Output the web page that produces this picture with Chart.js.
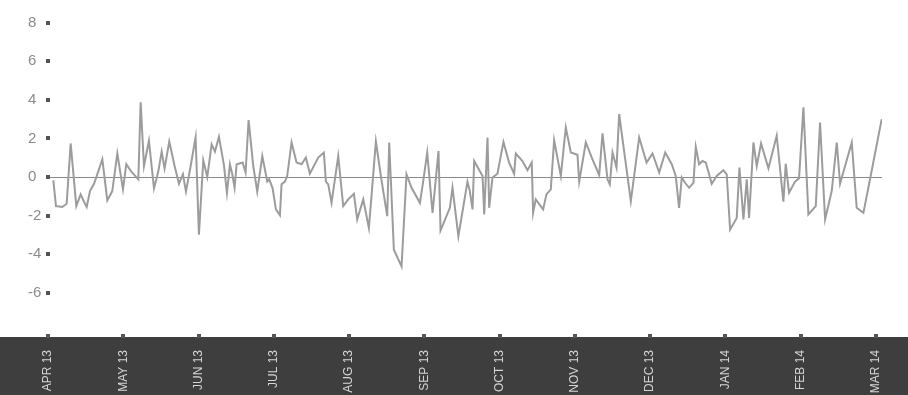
<!DOCTYPE html>
<html>
<head>
<meta charset="utf-8">
<script src="https://cdn.jsdelivr.net/npm/chart.js@4.4.1/dist/chart.umd.min.js"></script>
<style>
  html, body { margin: 0; padding: 0; background: #fff; }
  #wrap { width: 908px; height: 395px; }
</style>
</head>
<body>
<div id="wrap"><canvas id="chart"></canvas></div>
<script>
// month labels, one per tick (tick value = months since Apr 2013)
const monthLabels = ['APR 13', 'MAY 13', 'JUN 13', 'JUL 13', 'AUG 13', 'SEP 13',
                     'OCT 13', 'NOV 13', 'DEC 13', 'JAN 14', 'FEB 14', 'MAR 14'];
const monthTicks = [0, 1, 2, 3, 4, 5, 6, 7, 8, 9, 10, 11];
const yTicks = [-6, -4, -2, 0, 2, 4, 6, 8];

// position of each point in months since the start of Apr 2013
const pointMonths = [
    0.071, 0.106, 0.190, 0.248, 0.301, 0.376, 0.434, 0.478, 0.514, 0.558,
    0.611, 0.655, 0.722, 0.788, 0.854, 0.921, 0.996, 1.040, 1.107, 1.200,
    1.231, 1.275, 1.341, 1.408, 1.465, 1.510, 1.549, 1.611, 1.682, 1.740,
    1.793, 1.833, 1.895, 1.961, 2.005, 2.063, 2.116, 2.174, 2.218, 2.271,
    2.337, 2.377, 2.417, 2.448, 2.479, 2.506, 2.585, 2.625, 2.665, 2.727,
    2.780, 2.847, 2.913, 2.939, 2.984, 3.028, 3.081, 3.103, 3.147, 3.178,
    3.236, 3.302, 3.369, 3.426, 3.479, 3.590, 3.665, 3.692, 3.723, 3.767,
    3.856, 3.922, 3.988, 4.064, 4.108, 4.188, 4.263, 4.312, 4.356, 4.431,
    4.507, 4.533, 4.595, 4.697, 4.763, 4.830, 4.941, 4.985, 5.038, 5.109,
    5.188, 5.215, 5.339, 5.374, 5.452, 5.573, 5.604, 5.640, 5.662, 5.773,
    5.795, 5.839, 5.861, 5.905, 5.971, 6.051, 6.126, 6.193, 6.215, 6.303,
    6.370, 6.427, 6.445, 6.480, 6.578, 6.622, 6.680, 6.724, 6.813, 6.879,
    6.946, 7.034, 7.057, 7.145, 7.234, 7.323, 7.367, 7.433, 7.464, 7.500,
    7.553, 7.588, 7.743, 7.854, 7.952, 8.031, 8.120, 8.200, 8.287, 8.340,
    8.384, 8.420, 8.464, 8.517, 8.575, 8.606, 8.650, 8.694, 8.739, 8.818,
    8.884, 8.973, 9.017, 9.062, 9.150, 9.186, 9.239, 9.283, 9.314, 9.372,
    9.416, 9.473, 9.571, 9.681, 9.770, 9.801, 9.845, 9.925, 9.978, 10.036,
    10.102, 10.200, 10.257, 10.324, 10.412, 10.479, 10.523, 10.678, 10.744, 10.833,
    10.921, 11.076
];
const spreadValues = [
    -0.17, -1.51, -1.56, -1.39, 1.74, -1.51, -0.90, -1.28, -1.56, -0.73,
    -0.35, 0.14, 0.92, -1.22, -0.73, 1.22, -0.64, 0.66, 0.28, -0.12,
    3.87, 0.57, 1.88, -0.59, 0.28, 1.32, 0.45, 1.84, 0.57, -0.35,
    0.14, -0.76, 0.57, 2.05, -2.99, 0.87, 0.00, 1.70, 1.32, 2.08,
    0.63, -0.83, 0.66, 0.14, -0.56, 0.66, 0.75, 0.23, 2.95, 0.57,
    -0.76, 1.09, -0.24, -0.12, -0.59, -1.68, -1.98, -0.38, -0.24, 0.05,
    1.79, 0.75, 0.66, 1.01, 0.17, 1.01, 1.27, -0.24, -0.38, -1.34,
    1.09, -1.51, -1.16, -0.87, -2.20, -1.16, -2.64, -0.30, 1.84, -0.17,
    -2.03, 1.79, -3.77, -4.64, 0.14, -0.56, -1.34, -0.21, 1.27, -1.86,
    1.35, -2.78, -1.60, -0.56, -3.07, -0.24, -0.73, -1.68, 0.83, 0.05,
    -1.94, 2.05, -1.60, -0.03, 0.17, 1.82, 0.75, 0.17, 1.22, 0.83,
    0.35, 0.75, -1.86, -1.16, -1.68, -0.90, -0.64, 1.91, 0.05, 2.57,
    1.27, 1.15, -0.24, 1.79, 0.92, 0.10, 2.26, -0.12, -0.38, 1.27,
    0.49, 3.26, -1.25, 2.05, 0.75, 1.22, 0.23, 1.27, 0.66, 0.05,
    -1.60, -0.03, -0.30, -0.56, -0.30, 1.56, 0.66, 0.83, 0.75, -0.35,
    0.05, 0.35, 0.14, -2.73, -2.12, 0.49, -2.20, -0.12, -2.12, 1.79,
    0.57, 1.74, 0.45, 2.14, -1.28, 0.69, -0.82, -0.24, -0.07, 3.61,
    -1.94, -1.51, 2.83, -2.20, -0.73, 1.79, -0.35, 1.79, -1.60, -1.86,
    -0.12, 3.00
];

const fontFam = "'Liberation Sans', Arial, sans-serif";

// dark band behind the month labels + little square tick markers
const decor = {
    id: 'decor',
    beforeDraw(chart) {
        const ctx = chart.ctx;
        const area = chart.chartArea;
        ctx.save();
        ctx.fillStyle = '#3e3e3e';
        ctx.fillRect(0, area.bottom, chart.width, chart.height - area.bottom);
        ctx.restore();
    },
    afterDraw(chart) {
        const ctx = chart.ctx;
        const area = chart.chartArea;
        const xs = chart.scales.x, ys = chart.scales.y;
        ctx.save();
        ctx.fillStyle = '#555';
        yTicks.forEach(v => {
            const py = Math.round(ys.getPixelForValue(v));
            ctx.fillRect(area.left - 2, py - 2, 4, 4);
        });
        monthTicks.forEach(m => {
            const px = Math.round(xs.getPixelForValue(m));
            ctx.fillRect(px - 2, area.bottom - 3, 4, 4);
        });
        ctx.restore();
    }
};

const ctx = document.getElementById('chart').getContext('2d');
const chart = new Chart(ctx, {
    type: 'line',
    data: {
        datasets: [{
            data: pointMonths.map((m, i) => ({ x: m, y: spreadValues[i] })),
            borderColor: '#9c9c9c',
            borderWidth: 2,
            pointRadius: 0,
            tension: 0,
            fill: false
        }]
    },
    options: {
        responsive: true,
        maintainAspectRatio: false,
        animation: false,
        layout: { padding: { top: 17, right: 26, left: 28, bottom: 0 } },
        plugins: { legend: { display: false }, tooltip: { enabled: false } },
        scales: {
            x: {
                type: 'linear',
                min: 0,
                max: 11.08,
                afterBuildTicks: s => { s.ticks = monthTicks.map(v => ({ value: v })); },
                afterFit: s => { s.height = 58; },
                border: { display: false },
                grid: { display: false },
                ticks: {
                    autoSkip: false,
                    minRotation: 90,
                    maxRotation: 90,
                    padding: 5,
                    color: '#d6d6d6',
                    font: { family: fontFam, size: 12 },
                    callback: (value, index) => monthLabels[index]
                }
            },
            y: {
                min: -8.3,
                max: 8.3,
                afterBuildTicks: s => { s.ticks = yTicks.map(v => ({ value: v })); },
                afterFit: s => { s.width = 20; },
                border: { display: false },
                grid: {
                    drawTicks: false,
                    lineWidth: 1,
                    color: c => c.tick && c.tick.value === 0 ? '#8a8a8a' : 'rgba(0,0,0,0)'
                },
                ticks: {
                    crossAlign: 'far',
                    padding: 0,
                    color: '#8c8c8c',
                    font: { family: fontFam, size: 15 },
                    callback: v => v
                }
            }
        }
    },
    plugins: [decor]
});
</script>
</body>
</html>
